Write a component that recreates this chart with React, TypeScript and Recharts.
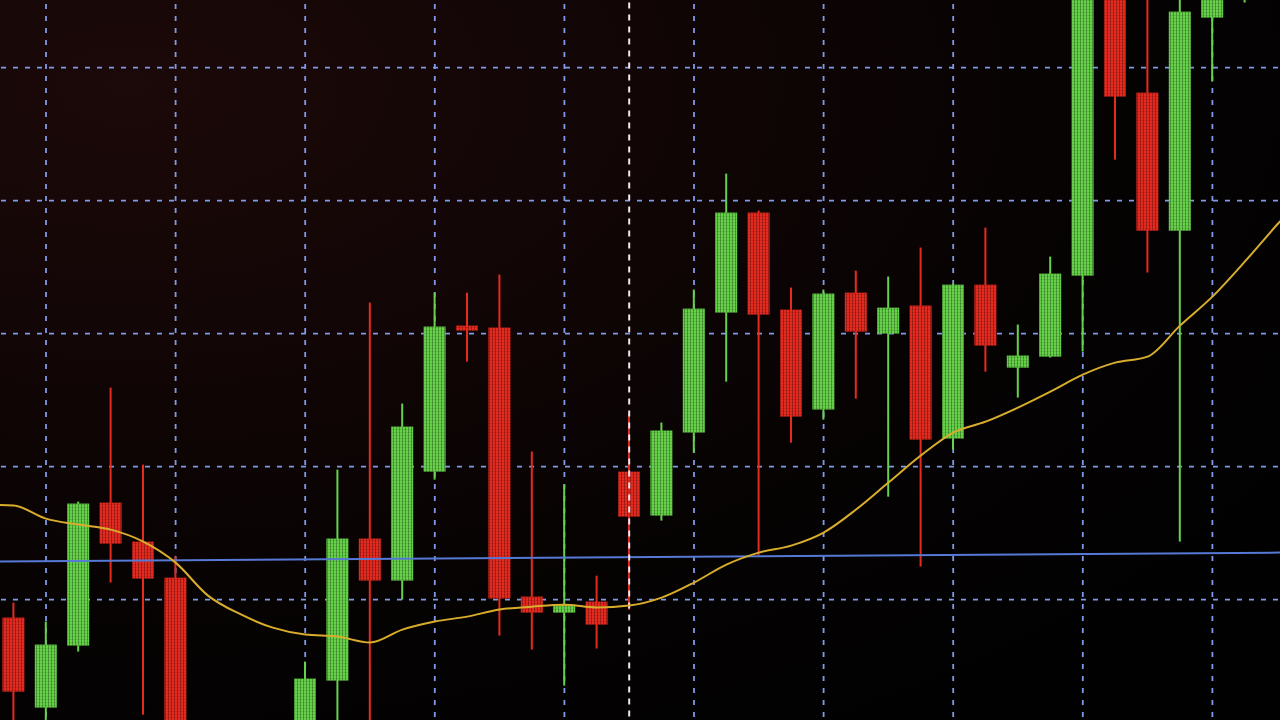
import React from "react";
import {
  ComposedChart,
  Bar,
  Line,
  XAxis,
  YAxis,
  CartesianGrid,
  ReferenceLine,
} from "recharts";

// one label per candle slot; the first and last two slots sit just outside the screen
const periods = [
  "p00", "p01", "p02", "p03", "p04", "p05", "p06", "p07", "p08", "p09",
  "p10", "p11", "p12", "p13", "p14", "p15", "p16", "p17", "p18", "p19",
  "p20", "p21", "p22", "p23", "p24", "p25", "p26", "p27", "p28", "p29",
  "p30", "p31", "p32", "p33", "p34", "p35", "p36", "p37", "p38", "p39",
  "p40", "p41",
];

const opens = [
  null, 18.65, 11.88, 16.54, 27.29, 24.36, 21.65, 9.5, 7.5, 8.8,
  9.85, 13.91, 24.59, 21.43, 29.62, 40.6, 40.45, 20.23, 19.02, 19.85,
  29.62, 26.32, 32.56, 41.58, 49.1, 41.8, 34.29, 43.08, 40.0, 42.11,
  32.11, 43.68, 37.44, 38.27, 44.36, 67.37, 58.12, 47.74, 63.76, 66.5,
  null, null,
];

const highs = [
  null, 19.77, 18.35, 27.37, 35.94, 30.15, 23.23, 10.6, 10.0, 10.4,
  15.34, 29.77, 42.33, 34.74, 43.08, 43.08, 44.44, 31.13, 28.65, 21.8,
  33.91, 33.31, 43.31, 52.03, 49.25, 43.46, 43.31, 44.74, 44.29, 46.47,
  43.76, 47.97, 40.68, 45.79, 68.12, 68.87, 65.86, 66.24, 68.12, 69.0,
  null, null,
];

const lows = [
  null, 9.85, 10.38, 16.09, 21.28, 11.35, 9.1, 6.8, 6.9, 7.4,
  9.1, 9.47, 9.1, 20.0, 29.02, 37.89, 17.29, 16.24, 13.53, 16.32,
  19.25, 25.94, 31.05, 36.39, 23.31, 31.8, 33.53, 35.11, 27.74, 22.48,
  31.28, 37.14, 35.19, 38.2, 38.65, 53.08, 44.59, 24.36, 58.95, 64.89,
  null, null,
];

const closes = [
  null, 13.08, 16.62, 27.22, 24.21, 21.58, 9.47, 8.0, 9.0, 9.7,
  14.06, 24.59, 21.43, 33.01, 40.53, 40.23, 20.08, 19.02, 19.62, 18.12,
  26.24, 32.71, 41.88, 49.1, 41.43, 33.76, 43.01, 40.15, 41.95, 32.03,
  43.68, 39.1, 38.35, 44.51, 66.62, 57.82, 47.74, 64.21, 66.99, 68.0,
  null, null,
];

// moving average
const movingAvg = [
  27.14, 27.07, 26.09, 25.64, 25.26, 24.36, 22.78, 20.3, 18.9, 17.89,
  17.37, 17.22, 16.77, 17.74, 18.35, 18.72, 19.25, 19.47, 19.62, 19.4,
  19.55, 20.15, 21.28, 22.63, 23.53, 24.06, 25.04, 26.77, 28.8, 30.83,
  32.56, 33.38, 34.44, 35.64, 36.92, 37.82, 38.27, 40.6, 42.78, 45.41,
  48.2, 50.83,
];

const priceTicks = [20, 30, 40, 50, 60];
const gridPeriods = ["p02", "p06", "p10", "p14", "p18", "p22", "p26", "p30", "p34", "p38"];
const cursorPeriod = "p20";
const supportLevel = [22.85, 23.55];

const GREEN = "#66d24a";
const RED = "#e52a1f";

const table = periods.map((p, k) => ({
  p,
  open: opens[k],
  high: highs[k],
  low: lows[k],
  close: closes[k],
  ma: movingAvg[k],
}));

function Candle(props: any) {
  const { x, y, width, height, payload } = props;
  if (payload == null || payload.high == null || !height) return null;
  const top = Math.min(y, y + height);
  const span = Math.abs(height);
  const py = (v: number) =>
    top + ((payload.high - v) / (payload.high - payload.low)) * span;
  const up = payload.close >= payload.open;
  const color = up ? GREEN : RED;
  const bodyTop = py(Math.max(payload.open, payload.close));
  const bodyH = Math.max(py(Math.min(payload.open, payload.close)) - bodyTop, 3);
  const cx = x + width / 2;
  return (
    <g>
      <rect x={cx - 1} y={top} width={2} height={span} fill={color} />
      <rect x={x} y={bodyTop} width={width} height={bodyH} fill={color} />
      {/* screen pixel texture */}
      <rect x={x} y={bodyTop} width={width} height={bodyH} fill="url(#lcd)" />
    </g>
  );
}

export default function App() {
  return (
    <div
      style={{
        position: "fixed",
        left: 0,
        top: 0,
        width: 1280,
        height: 720,
        overflow: "hidden",
        background:
          "radial-gradient(ellipse at 10% 12%, #1c0909 0%, #100505 35%, #040202 65%, #010101 100%)",
      }}
    >
      <div style={{ position: "absolute", left: -34.6, top: -91.6 }}>
        <ComposedChart
          width={1360.8}
          height={904.4}
          data={table}
          margin={{ top: 0, right: 0, bottom: 0, left: 0 }}
          accessibilityLayer={false}
        >
          <defs>
            <pattern id="lcd" width={3} height={3} patternUnits="userSpaceOnUse">
              <rect x={2} y={0} width={1} height={3} fill="rgba(0,0,0,0.28)" />
              <rect x={0} y={2} width={3} height={1} fill="rgba(0,0,0,0.1)" />
            </pattern>
          </defs>
          <XAxis dataKey="p" hide ticks={gridPeriods} interval={0} />
          <YAxis hide type="number" domain={[4, 72]} ticks={priceTicks} />
          <CartesianGrid stroke="#7f9ae8" strokeWidth={1.8} strokeDasharray="5 7" />
          <ReferenceLine
            segment={[
              { x: periods[0], y: supportLevel[0] },
              { x: periods[periods.length - 1], y: supportLevel[1] },
            ]}
            stroke="#5679d6"
            strokeWidth={2}
          />
          <ReferenceLine
            x={cursorPeriod}
            stroke="#f3e6ee"
            strokeWidth={2}
            strokeDasharray="6 6"
          />
          <Line
            dataKey="ma"
            type="monotone"
            stroke="#d9ad2c"
            strokeWidth={2}
            dot={false}
            activeDot={false}
            isAnimationActive={false}
          />
          <Bar
            dataKey={(d: any) => (d.low == null ? null : [d.low, d.high])}
            barSize={22}
            shape={Candle}
            isAnimationActive={false}
          />
        </ComposedChart>
      </div>
    </div>
  );
}
